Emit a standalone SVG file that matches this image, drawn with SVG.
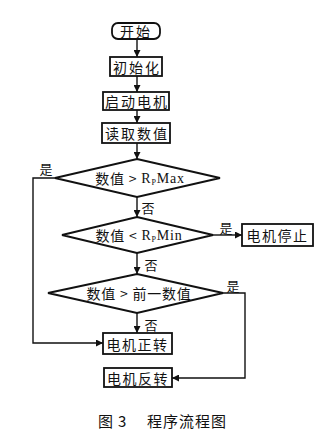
<svg xmlns="http://www.w3.org/2000/svg" width="325" height="438" viewBox="0 0 325 438">
<style>
.box{fill:#fff;stroke:#111;stroke-width:1.8}
.ln{fill:none;stroke:#111;stroke-width:1.4}
.t{font-family:"Noto Sans CJK SC","Liberation Serif",serif;font-size:14px;fill:#111;text-anchor:middle;dominant-baseline:central}
.s{font-family:"Noto Sans CJK SC","Liberation Serif",serif;font-size:13px;fill:#111;text-anchor:middle;dominant-baseline:central}
.m{font-family:"Liberation Serif","Noto Sans CJK SC",serif}
.cap{font-family:"Noto Sans CJK SC","Liberation Serif",serif;font-size:15px;fill:#111;dominant-baseline:central}
</style>
<defs>
<marker id="ah" viewBox="0 0 10 10" refX="10" refY="5" markerWidth="7" markerHeight="7" markerUnits="userSpaceOnUse" orient="auto">
<path d="M0,0 L10,5 L0,10 Z" fill="#111"/>
</marker>
</defs>
<rect width="325" height="438" fill="#fff"/>
<g id="connectors">
<line class="ln" x1="137" y1="39" x2="137" y2="57" marker-end="url(#ah)"/>
<line class="ln" x1="137" y1="76" x2="137" y2="92" marker-end="url(#ah)"/>
<line class="ln" x1="137" y1="110" x2="137" y2="123" marker-end="url(#ah)"/>
<line class="ln" x1="137" y1="143" x2="137" y2="159" marker-end="url(#ah)"/>
<line class="ln" x1="137" y1="197" x2="137" y2="217" marker-end="url(#ah)"/>
<line class="ln" x1="137" y1="253" x2="137" y2="274" marker-end="url(#ah)"/>
<line class="ln" x1="137" y1="313" x2="137" y2="333" marker-end="url(#ah)"/>
<polyline class="ln" points="55,178 33,178 33,343 103,343" marker-end="url(#ah)"/>
<line class="ln" x1="213" y1="235" x2="242" y2="235" marker-end="url(#ah)"/>
<polyline class="ln" points="223,293 245,293 245,378 172,378" marker-end="url(#ah)"/>
<text class="s" x="46" y="168">是</text>
<text class="s" x="148" y="207">否</text>
<text class="s" x="226" y="227">是</text>
<text class="s" x="151" y="264">否</text>
<text class="s" x="233" y="285">是</text>
<text class="s" x="151" y="324">否</text>
</g>
<g id="start">
<rect class="box" x="112" y="23" width="48" height="16" rx="6"/>
<text class="t" x="136" y="31" letter-spacing="2">开始</text>
</g>
<g id="init">
<rect class="box" x="110" y="57" width="52" height="19"/>
<text class="t" x="137" y="66.5" letter-spacing="2">初始化</text>
</g>
<g id="startMotor">
<rect class="box" x="103" y="92" width="66" height="18"/>
<text class="t" x="137" y="101" letter-spacing="2">启动电机</text>
</g>
<g id="read">
<rect class="box" x="102" y="123" width="68" height="20"/>
<text class="t" x="137" y="133" letter-spacing="2">读取数值</text>
</g>
<g id="d1">
<polygon class="box" points="137,159 220,178 137,197 55,178"/>
<text class="t" x="140" y="178" letter-spacing="0.8">数值 &gt; <tspan class="m">R</tspan><tspan class="m" font-size="8" dy="4">P</tspan><tspan class="m" dy="-4">Max</tspan></text>
</g>
<g id="d2">
<polygon class="box" points="137,217 213,235 137,253 62,235"/>
<text class="t" x="139" y="235" letter-spacing="0.8">数值 &lt; <tspan class="m">R</tspan><tspan class="m" font-size="8" dy="4">P</tspan><tspan class="m" dy="-4">Min</tspan></text>
</g>
<g id="stop">
<rect class="box" x="242" y="224" width="71" height="22"/>
<text class="t" x="277.5" y="235" letter-spacing="1.5">电机停止</text>
</g>
<g id="d3">
<polygon class="box" points="137,274 223,293 137,313 48,293"/>
<text class="t" x="139" y="293" letter-spacing="0.8">数值 &gt; 前一数值</text>
</g>
<g id="forward">
<rect class="box" x="103" y="333" width="69" height="21"/>
<text class="t" x="137.5" y="343.5" letter-spacing="1.5">电机正转</text>
</g>
<g id="reverse">
<rect class="box" x="104" y="368" width="68" height="19"/>
<text class="t" x="138" y="377.5" letter-spacing="1.5">电机反转</text>
</g>
<g id="caption">
<text class="cap" y="420"><tspan x="98">图</tspan><tspan x="118">3</tspan><tspan x="147" letter-spacing="1">程序流程图</tspan></text>
</g>
</svg>
